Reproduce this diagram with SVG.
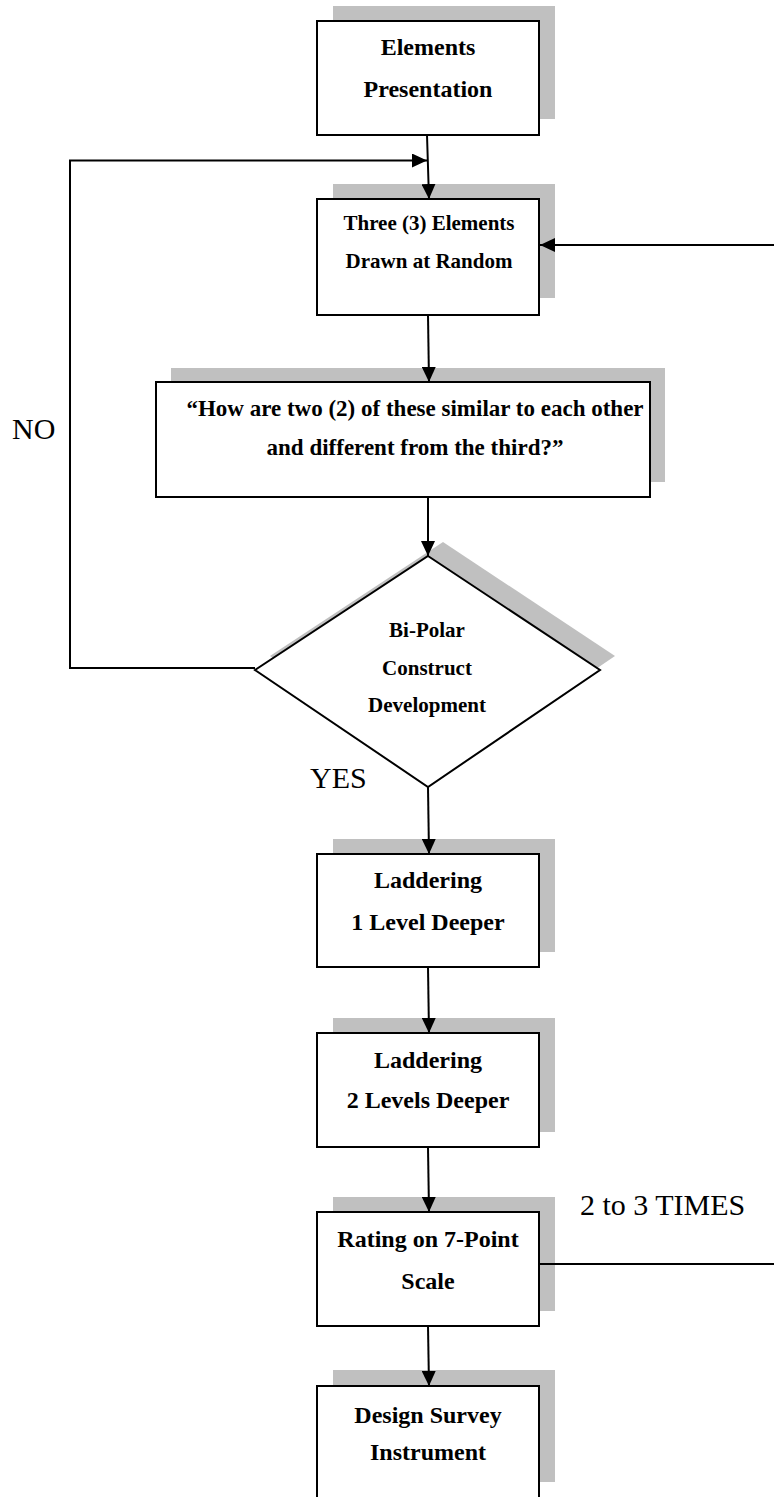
<svg xmlns="http://www.w3.org/2000/svg" width="774" height="1497" viewBox="0 0 774 1497">
<style>
  .shadow { fill: #c0c0c0; stroke: none; }
  .box { fill: #ffffff; stroke: #000000; stroke-width: 2; }
  .t { font-family: "Liberation Serif", "Times New Roman", serif; font-weight: bold; fill: #000000; text-anchor: middle; }
  .t24 { font-size: 24px; }
  .t21 { font-size: 21px; }
  .t23 { font-size: 23px; }
  .lbl { font-family: "Liberation Serif", "Times New Roman", serif; font-size: 30px; fill: #000000; }
  .conn { fill: none; stroke: #000000; stroke-width: 2; }
</style>
<defs>
  <marker id="arrow" markerUnits="userSpaceOnUse" markerWidth="15" markerHeight="14" refX="15" refY="7" orient="auto">
    <path d="M0,0 L15,7 L0,14 Z" fill="#000000"/>
  </marker>
</defs>
<rect width="774" height="1497" fill="#ffffff"/>

<g id="node-elements-presentation">
  <rect class="shadow" x="333" y="6" width="222" height="113"/>
  <rect class="box" x="317" y="21" width="222" height="114"/>
  <text class="t t24" x="428" y="55">Elements</text>
  <text class="t t24" x="428" y="97">Presentation</text>
</g>

<g id="node-three-elements">
  <rect class="shadow" x="333" y="184" width="222" height="114"/>
  <rect class="box" x="317" y="199" width="222" height="116"/>
  <text class="t t21" x="429" y="230">Three (3) Elements</text>
  <text class="t t21" x="429" y="268">Drawn at Random</text>
</g>

<g id="node-question">
  <rect class="shadow" x="171" y="368" width="494" height="114"/>
  <rect class="box" x="156" y="382" width="494" height="115"/>
  <text class="t t23" x="415" y="416">“How are two (2) of these similar to each other</text>
  <text class="t t23" x="415" y="455">and different from the third?”</text>
</g>

<g id="node-bipolar">
  <polygon class="shadow" points="443,542 615,656 443,773 270,656"/>
  <polygon class="box" points="428,556 600,670 428,787 255,670"/>
  <text class="t t21" x="427" y="637">Bi-Polar</text>
  <text class="t t21" x="427" y="675">Construct</text>
  <text class="t t21" x="427" y="712">Development</text>
</g>

<g id="node-laddering-1">
  <rect class="shadow" x="333" y="839" width="222" height="113"/>
  <rect class="box" x="317" y="854" width="222" height="113"/>
  <text class="t t24" x="428" y="888">Laddering</text>
  <text class="t t24" x="428" y="930">1 Level Deeper</text>
</g>

<g id="node-laddering-2">
  <rect class="shadow" x="333" y="1018" width="222" height="114"/>
  <rect class="box" x="317" y="1033" width="222" height="114"/>
  <text class="t t24" x="428" y="1068">Laddering</text>
  <text class="t t24" x="428" y="1108">2 Levels Deeper</text>
</g>

<g id="node-rating">
  <rect class="shadow" x="333" y="1197" width="222" height="114"/>
  <rect class="box" x="317" y="1212" width="222" height="114"/>
  <text class="t t24" x="428" y="1247">Rating on 7-Point</text>
  <text class="t t24" x="428" y="1289">Scale</text>
</g>

<g id="node-design-survey">
  <rect class="shadow" x="333" y="1370" width="222" height="112"/>
  <rect class="box" x="317" y="1386" width="222" height="120"/>
  <text class="t t24" x="428" y="1423">Design Survey</text>
  <text class="t t24" x="428" y="1460">Instrument</text>
</g>

<g id="connectors">
  <line class="conn" x1="427" y1="135" x2="429" y2="199" marker-end="url(#arrow)"/>
  <path class="conn" d="M255,668 H70 V160.5 H427" marker-end="url(#arrow)"/>
  <line class="conn" x1="774" y1="245" x2="540" y2="245" stroke-width="2.5" marker-end="url(#arrow)"/>
  <line class="conn" x1="428" y1="315" x2="429" y2="382" marker-end="url(#arrow)"/>
  <line class="conn" x1="428" y1="497" x2="428" y2="556" marker-end="url(#arrow)"/>
  <line class="conn" x1="428" y1="787" x2="429" y2="854" marker-end="url(#arrow)"/>
  <line class="conn" x1="428" y1="967" x2="429" y2="1033" marker-end="url(#arrow)"/>
  <line class="conn" x1="428" y1="1147" x2="429" y2="1212" marker-end="url(#arrow)"/>
  <line class="conn" x1="539" y1="1264" x2="774" y2="1264" stroke-width="1.5"/>
  <line class="conn" x1="428" y1="1326" x2="429" y2="1386" marker-end="url(#arrow)"/>
</g>

<g id="labels">
  <text class="lbl" x="12" y="439">NO</text>
  <text class="lbl" x="310" y="788">YES</text>
  <text class="lbl" x="580" y="1215">2 to 3 TIMES</text>
</g>
</svg>
